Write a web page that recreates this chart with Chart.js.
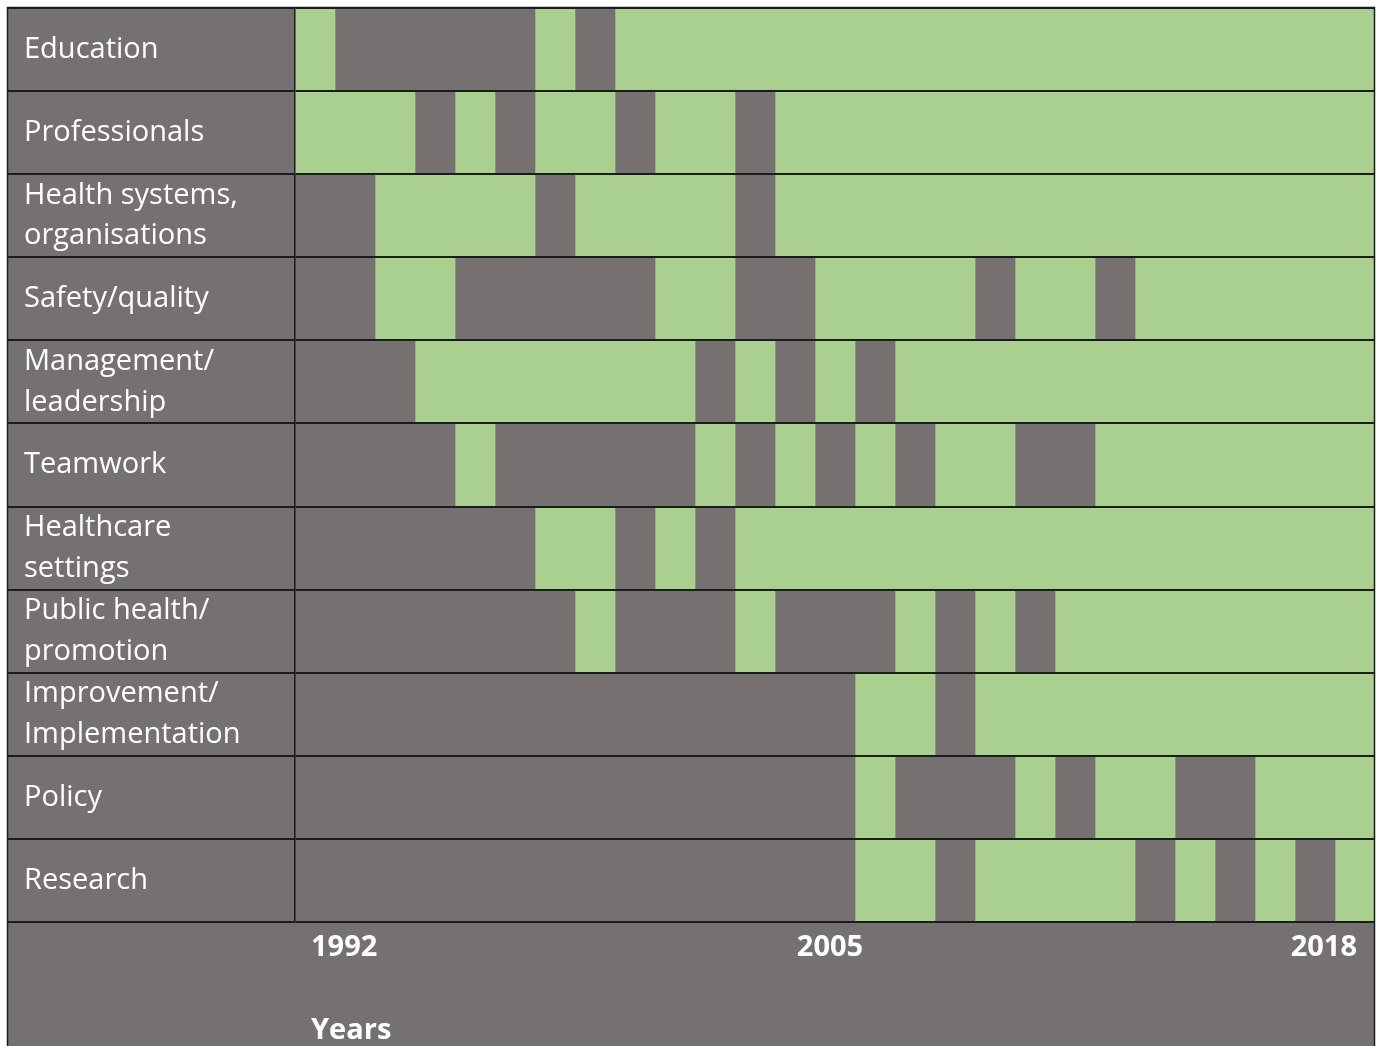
<!DOCTYPE html>
<html>
<head>
<meta charset="utf-8">
<title>Topics by year</title>
<script src="https://cdn.jsdelivr.net/npm/chart.js@4/dist/chart.umd.min.js"></script>
<style>
    html, body { margin: 0; padding: 0; background: #ffffff; overflow: hidden; }
    #wrap { position: relative; width: 1379px; height: 1046px; }
</style>
</head>
<body>
<div id="wrap"><canvas id="topicChart"></canvas></div>
<script>
const categories = [
    "Education",
    "Professionals",
    ["Health systems,", "organisations"],
    "Safety/quality",
    ["Management/", "leadership"],
    "Teamwork",
    ["Healthcare", "settings"],
    ["Public health/", "promotion"],
    ["Improvement/", "Implementation"],
    "Policy",
    "Research"
];

const years = [1992, 1993, 1994, 1995, 1996, 1997, 1998, 1999, 2000, 2001, 2002, 2003, 2004, 2005,
    2006, 2007, 2008, 2009, 2010, 2011, 2012, 2013, 2014, 2015, 2016, 2017, 2018];

const xTickLabels = ["1992", "2005", "2018"];
const xTitle = "Years";

// 1 = topic covered that year (green), 0 = not covered (grey)
const education      = [1,0,0,0,0,0,1,0,1,1,1,1,1,1,1,1,1,1,1,1,1,1,1,1,1,1,1];
const professionals  = [1,1,1,0,1,0,1,1,0,1,1,0,1,1,1,1,1,1,1,1,1,1,1,1,1,1,1];
const healthSystems  = [0,0,1,1,1,1,0,1,1,1,1,0,1,1,1,1,1,1,1,1,1,1,1,1,1,1,1];
const safetyQuality  = [0,0,1,1,0,0,0,0,0,1,1,0,0,1,1,1,1,0,1,1,0,1,1,1,1,1,1];
const management     = [0,0,0,1,1,1,1,1,1,1,0,1,0,1,0,1,1,1,1,1,1,1,1,1,1,1,1];
const teamwork       = [0,0,0,0,1,0,0,0,0,0,1,0,1,0,1,0,1,1,0,0,1,1,1,1,1,1,1];
const settings       = [0,0,0,0,0,0,1,1,0,1,0,1,1,1,1,1,1,1,1,1,1,1,1,1,1,1,1];
const publicHealth   = [0,0,0,0,0,0,0,1,0,0,0,1,0,0,0,1,0,1,0,1,1,1,1,1,1,1,1];
const improvement    = [0,0,0,0,0,0,0,0,0,0,0,0,0,0,1,1,0,1,1,1,1,1,1,1,1,1,1];
const policy         = [0,0,0,0,0,0,0,0,0,0,0,0,0,0,1,0,0,0,1,0,1,1,0,0,1,1,1];
const research       = [0,0,0,0,0,0,0,0,0,0,0,0,0,0,1,1,0,1,1,1,1,0,1,0,1,0,1];

const rows = [education, professionals, healthSystems, safetyQuality, management, teamwork,
    settings, publicHealth, improvement, policy, research];

const GREEN = "#a9d08e";
const GREY = "#767171";
const LINE = "#1c1c1c";
const FONT = '"Open Sans", sans-serif';

// one floating bar per year in every row, coloured by the flag
const datasets = years.map((year, j) => ({
    label: String(year),
    data: rows.map(() => [year, year + 1]),
    backgroundColor: rows.map(row => row[j] ? GREEN : GREY),
    borderWidth: 0,
    grouped: false,
    barPercentage: 1,
    categoryPercentage: 1
}));

const framePlugin = {
    id: "frame",
    beforeDraw(chart) {
        const { ctx, chartArea, height } = chart;
        ctx.save();
        ctx.fillStyle = GREY;
        ctx.fillRect(8, 8, chartArea.right - 9, height - 8);
        ctx.restore();
    },
    afterDraw(chart) {
        const { ctx, chartArea, height, scales } = chart;
        ctx.save();
        ctx.font = "bold 29px " + FONT;
        ctx.fillStyle = "#ffffff";
        ctx.textAlign = "left";
        ctx.textBaseline = "middle";
        ctx.fillText(xTitle, chartArea.left + 16, scales.x.bottom - 15);

        ctx.strokeStyle = LINE;
        ctx.lineWidth = 1.5;
        ctx.beginPath();
        ctx.moveTo(7.5, height);
        ctx.lineTo(7.5, 7.5);
        ctx.lineTo(chartArea.right - 0.5, 7.5);
        ctx.lineTo(chartArea.right - 0.5, height);
        ctx.stroke();
        ctx.restore();
    }
};

new Chart(document.getElementById("topicChart"), {
    type: "bar",
    data: {
        labels: categories,
        datasets
    },
    plugins: [framePlugin],
    options: {
        indexAxis: "y",
        responsive: true,
        maintainAspectRatio: false,
        animation: false,
        layout: {
            padding: { left: 24, top: 8, right: 4, bottom: 0 }
        },
        plugins: {
            legend: { display: false },
            tooltip: { enabled: false }
        },
        scales: {
            x: {
                type: "linear",
                min: 1992,
                max: 2019,
                afterBuildTicks: scale => {
                    scale.ticks = [scale.min + 0.4, scale.min + 13.375, scale.max - 0.45]
                        .map(value => ({ value }));
                },
                afterFit: scale => {
                    scale.height = 124;
                    scale.paddingLeft = 0;
                    scale.paddingRight = 0;
                },
                grid: { display: false },
                border: { display: false },
                ticks: {
                    autoSkip: false,
                    maxRotation: 0,
                    align: "inner",
                    padding: 0,
                    color: "#ffffff",
                    font: { family: FONT, size: 29, weight: "bold" },
                    callback: (value, index) => xTickLabels[index]
                }
            },
            y: {
                afterFit: scale => {
                    scale.width = 271;
                    scale.paddingTop = 0;
                    scale.paddingBottom = 0;
                },
                grid: {
                    color: LINE,
                    lineWidth: 2,
                    offset: true,
                    drawTicks: true,
                    tickLength: 287,
                    z: 1
                },
                border: { display: true, color: LINE, width: 1.5, z: 1 },
                ticks: {
                    autoSkip: false,
                    crossAlign: "far",
                    color: "#ffffff",
                    font: { family: FONT, size: 29, lineHeight: 1.41 }
                }
            }
        }
    }
});
</script>
</body>
</html>
